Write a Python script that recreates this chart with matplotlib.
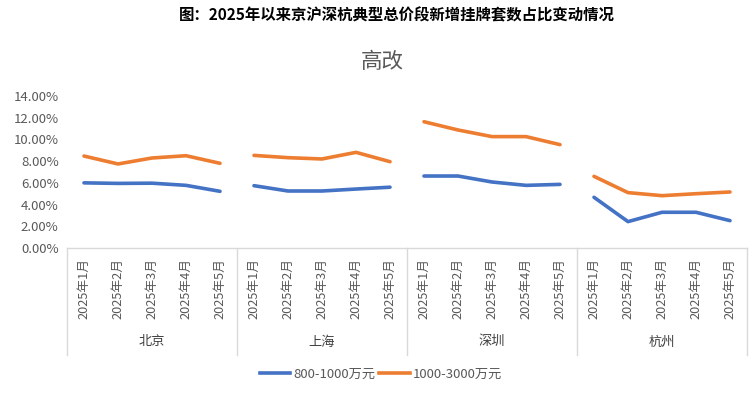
import matplotlib
matplotlib.use("Agg")
import matplotlib.pyplot as plt
from matplotlib.lines import Line2D
import matplotlib.transforms as mtransforms
import numpy as np

plt.rcParams['font.family'] = ['Noto Sans CJK SC', 'DejaVu Sans']

cities = ["北京", "上海", "深圳", "杭州"]
months = ["2025年1月", "2025年2月", "2025年3月", "2025年4月", "2025年5月"]
series_names = ["800-1000万元", "1000-3000万元"]
s800 = [
    [6.00, 5.95, 5.97, 5.77, 5.22],
    [5.74, 5.25, 5.25, 5.43, 5.60],
    [6.63, 6.63, 6.08, 5.77, 5.86],
    [4.67, 2.43, 3.29, 3.29, 2.52],
]
s1000 = [
    [8.47, 7.74, 8.29, 8.50, 7.80],
    [8.53, 8.32, 8.20, 8.81, 7.95],
    [11.63, 10.87, 10.26, 10.26, 9.52],
    [6.60, 5.10, 4.82, 5.00, 5.16],
]
yticks = [0, 2, 4, 6, 8, 10, 12, 14]
colors = ["#4472C4", "#ED7D31"]

W, H = 755, 395
fig = plt.figure(figsize=(W / 100, H / 100), dpi=100)
left, right, bottom, top = 67, 747, 248, 96
ax = fig.add_axes([left / W, 1 - bottom / H, (right - left) / W, (bottom - top) / H])

n = len(months)
for ci in range(len(cities)):
    x = np.arange(n) + ci * n
    ax.plot(x, s800[ci], color=colors[0], lw=2.6, solid_capstyle='round')
    ax.plot(x, s1000[ci], color=colors[1], lw=2.6, solid_capstyle='round')

ax.set_xlim(-0.5, len(cities) * n - 0.5)
ax.set_ylim(0, 14)
ax.set_yticks(yticks)
ax.set_yticklabels([f"{v:.2f}%" for v in yticks], color="#595959", fontsize=9.5)
ax.tick_params(axis='y', length=0, pad=6)
for sp in ["top", "right", "left"]:
    ax.spines[sp].set_visible(False)
ax.spines["bottom"].set_color("#D9D9D9")
ax.spines["bottom"].set_linewidth(1)

ax.set_xticks(np.arange(len(cities) * n))
ax.set_xticklabels(months * len(cities), rotation=90, color="#595959", fontsize=9.2)
ax.tick_params(axis='x', length=0, pad=7)

trans = mtransforms.blended_transform_factory(ax.transData, ax.transAxes)
ybot = (bottom - 355) / (bottom - top)
for k in range(len(cities) + 1):
    xb = k * n - 0.5
    ax.add_line(Line2D([xb, xb], [0, ybot], transform=trans, color="#D9D9D9", lw=1, clip_on=False))
ygrp = (bottom - 342) / (bottom - top)
for ci, c in enumerate(cities):
    ax.text(ci * n + (n - 1) / 2, ygrp, c, transform=trans, ha='center', va='center',
            fontsize=9.5, color="#404040")

fig.text(397 / W, 1 - 15 / H, "图：2025年以来京沪深杭典型总价段新增挂牌套数占比变动情况",
         ha='center', va='center', fontsize=11.1, fontweight='bold', color="black")
fig.text(382.5 / W, 1 - 62 / H, "高改", ha='center', va='center', fontsize=15.5, color="#595959")

handles = [Line2D([0], [0], color=colors[0], lw=2.6), Line2D([0], [0], color=colors[1], lw=2.6)]
fig.legend(handles, series_names, loc='center', bbox_to_anchor=(381 / W, 1 - 374 / H), ncol=2,
           frameon=False, fontsize=9.5, handlelength=2.3, columnspacing=0.3, handletextpad=0.25,
           labelcolor="#595959")

fig.savefig("out.png", dpi=100)
